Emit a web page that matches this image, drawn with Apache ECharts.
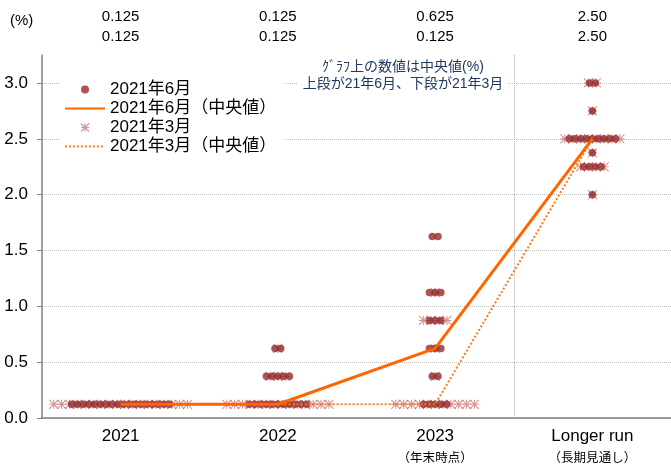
<!DOCTYPE html>
<html><head><meta charset="utf-8">
<script src="https://cdn.jsdelivr.net/npm/echarts@6/dist/echarts.min.js"></script>
<style>html,body{margin:0;padding:0;background:#fff}#c{width:671px;height:465px}</style>
</head><body><div id="c"></div>
<script>
// ---- data ----
const categories = ['2021', '2022', '2023', 'Longer run'];
const categorySub = ['', '', '（年末時点）', '（長期見通し）'];
const yTicks = [0, 0.5, 1.0, 1.5, 2.0, 2.5, 3.0];
const medianJune = [0.125, 0.125, 0.625, 2.5];
const medianMarch = [0.125, 0.125, 0.125, 2.5];
const topLabelJune = ['0.125', '0.125', '0.625', '2.50'];
const topLabelMarch = ['0.125', '0.125', '0.125', '2.50'];
// [rate, number of participants]
const june2021 = [[0.125, 18]];
const june2022 = [[0.125, 11], [0.375, 5], [0.625, 2]];
const june2023 = [[0.125, 5], [0.375, 2], [0.625, 3], [0.875, 3], [1.125, 3], [1.625, 2]];
const juneLonger = [[2.0, 1], [2.25, 4], [2.375, 1], [2.5, 9], [2.75, 1], [3.0, 2]];
const march2021 = [[0.125, 18]];
const march2022 = [[0.125, 14], [0.375, 3], [0.625, 1]];
const march2023 = [[0.125, 11], [0.375, 1], [0.625, 1], [0.875, 4], [1.125, 1]];
const marchLonger = [[2.0, 1], [2.25, 4], [2.375, 1], [2.5, 8], [2.75, 1], [3.0, 2]];
const juneDots = [june2021, june2022, june2023, juneLonger];
const marchDots = [march2021, march2022, march2023, marchLonger];

// ---- build ----
const FONT = '"Liberation Sans", Arial, "Noto Sans CJK JP", sans-serif';
function spread(byCat, step) {
  const out = [];
  byCat.forEach((rows, ci) => {
    rows.forEach(([rate, n]) => {
      for (let k = 0; k < n; k++) out.push([ci + 0.5 + (k - (n - 1) / 2) * step, rate]);
    });
  });
  return out;
}
const STAR = 'path://M0,0L10,10M10,0L0,10M5,0L5,10M0,5L10,5';
const starStyle = { color: 'transparent', borderColor: 'rgba(180,70,70,0.72)', borderWidth: 1.1 };
const chart = echarts.init(document.getElementById('c'));
chart.setOption({
  animation: false,
  backgroundColor: '#fff',
  textStyle: { fontFamily: FONT },
  grid: { left: 42, top: 55, width: 632, height: 364 },
  legend: {
    orient: 'vertical', left: 60, top: 79,
    padding: [2, 8, 2, 4], backgroundColor: '#fff',
    itemWidth: 40, itemHeight: 8, itemGap: 2,
    textStyle: { fontFamily: FONT, fontSize: 17, color: '#000', lineHeight: 16 },
    data: [
      { name: '2021年6月' },
      { name: '2021年6月（中央値）', itemStyle: { opacity: 0 } },
      { name: '2021年3月', itemStyle: starStyle },
      { name: '2021年3月（中央値）', itemStyle: { opacity: 0 } }
    ]
  },
  xAxis: [
    {
      type: 'category', data: categories, position: 'bottom',
      axisLine: { lineStyle: { color: '#808080', width: 1.5 } },
      axisTick: { alignWithLabel: true, length: 5, lineStyle: { color: '#808080' } },
      axisLabel: {
        margin: 8, interval: 0,
        formatter: (v, i) => categorySub[i] ? '{a|' + v + '}\n{b|' + categorySub[i] + '}' : '{a|' + v + '}',
        rich: {
          a: { fontFamily: FONT, fontSize: 17, color: '#000', lineHeight: 20 },
          b: { fontFamily: FONT, fontSize: 12.5, color: '#000', lineHeight: 25 }
        }
      },
      splitLine: { show: false }
    },
    { type: 'value', min: 0, max: 4, show: false },
    {
      type: 'category', data: categories, position: 'top',
      axisLine: { show: false }, axisTick: { show: false }, splitLine: { show: false },
      axisLabel: {
        margin: 8, interval: 0, fontFamily: FONT, fontSize: 15, color: '#000', lineHeight: 20,
        formatter: (v, i) => topLabelJune[i] + '\n' + topLabelMarch[i]
      }
    }
  ],
  yAxis: {
    type: 'value', min: 0, max: 3.25, interval: 0.25,
    axisLine: { show: true, lineStyle: { color: '#808080', width: 1.5 } },
    axisTick: { show: true, customValues: yTicks, length: 5, lineStyle: { color: '#808080' } },
    axisLabel: { customValues: yTicks, formatter: v => Number(v).toFixed(1), fontFamily: FONT, fontSize: 17, color: '#000', margin: 14 },
    splitLine: { show: true, lineStyle: { color: '#bdbdbd', type: 'dotted', width: 1 } }
  },
  series: [
    {
      name: '2021年3月', type: 'scatter', xAxisIndex: 1, z: 2,
      symbol: STAR, symbolSize: 9, itemStyle: starStyle,
      data: spread(marchDots, 0.05),
      markLine: {
        silent: true, symbol: 'none', label: { show: false },
        lineStyle: { color: '#aaaaaa', type: 'dotted', width: 1 },
        data: [{ xAxis: 3 }]
      }
    },
    {
      name: '2021年6月', type: 'scatter', xAxisIndex: 1, z: 3,
      symbol: 'circle', symbolSize: 7.5, itemStyle: { color: '#932a2a' },
      data: spread(juneDots, 0.0367)
    },
    {
      name: '2021年6月（中央値）', type: 'line', xAxisIndex: 0, z: 6,
      symbol: 'none', showSymbol: false, lineStyle: { color: '#FF6600', width: 3 }, itemStyle: { color: '#FF6600' },
      data: medianJune
    },
    {
      name: '2021年3月（中央値）', type: 'line', xAxisIndex: 0, z: 5,
      symbol: 'none', showSymbol: false, lineStyle: { color: '#FF7A1A', width: 2, type: 'dotted' }, itemStyle: { color: '#FF7A1A' },
      data: medianMarch
    }
  ],
  graphic: [
    { type: 'text', left: 10, top: 13, z: 100, style: { text: '(%)', font: '15px ' + FONT, fill: '#000' } },
    { type: 'rect', z: 100, shape: { x: 298, y: 58, width: 210, height: 34 }, style: { fill: '#fff' } },
    { type: 'text', z: 101, x: 403, y: 67, style: { text: 'ｸﾞﾗﾌ上の数値は中央値(%)', font: '14px ' + FONT, fill: '#1F3864', align: 'center', verticalAlign: 'middle' } },
    { type: 'text', z: 101, x: 403, y: 84, style: { text: '上段が21年6月、下段が21年3月', font: '14px ' + FONT, fill: '#1F3864', align: 'center', verticalAlign: 'middle' } }
  ]
});
</script></body></html>
